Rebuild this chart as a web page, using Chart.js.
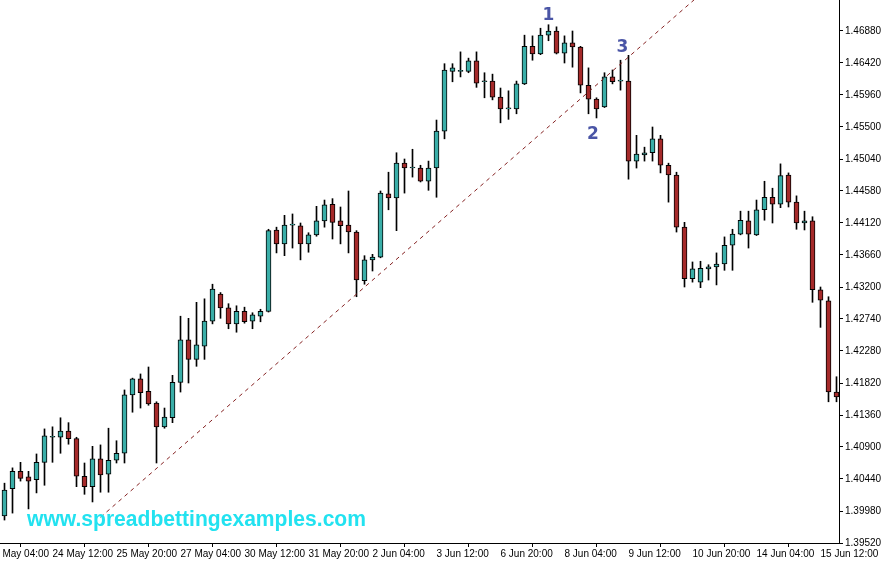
<!DOCTYPE html>
<html>
<head>
<meta charset="utf-8">
<script src="https://cdn.jsdelivr.net/npm/chart.js@4.4.1/dist/chart.umd.min.js"></script>
<style>
html,body{margin:0;padding:0;background:#fff;}
canvas{display:block;}
</style>
</head>
<body>
<canvas id="c" width="881" height="563"></canvas>
<script>
// H4 candles, 23 May 12:00 .. 15 Jun 16:00
const opens = [1.3991,1.4030,1.4055,1.4047,1.4043,1.4068,1.4104,1.4104,1.4113,1.4102,
1.4048,1.4033,1.4073,1.4051,1.4071,1.4081,1.4165,1.4188,1.4170,1.4153,
1.4119,1.4132,1.4183,1.4244,1.4216,1.4235,1.4271,1.4310,1.4290,1.4267,
1.4285,1.4271,1.4278,1.4285,1.4402,1.4382,1.4409,1.4408,1.4382,1.4395,
1.4415,1.4439,1.4415,1.4409,1.4399,1.4329,1.4359,1.4363,1.4454,1.4448,
1.4498,1.4491,1.4491,1.4472,1.4491,1.4544,1.4630,1.4630,1.4630,1.4645,
1.4615,1.4616,1.4593,1.4576,1.4576,1.4612,1.4666,1.4655,1.4682,1.4688,
1.4656,1.4671,1.4665,1.4610,1.4590,1.4579,1.4622,1.4616,1.4616,1.4501,
1.4510,1.4513,1.4533,1.4495,1.4481,1.4406,1.4332,1.4327,1.4346,1.4349,
1.4353,1.4380,1.4396,1.4415,1.4395,1.4431,1.4449,1.4439,1.4481,1.4442,
1.4412,1.4415,1.4316,1.4300,1.4169];
const highs = [1.4038,1.4060,1.4068,1.4055,1.4080,1.4116,1.4119,1.4132,1.4125,1.4104,
1.4067,1.4091,1.4093,1.4117,1.4099,1.4172,1.4189,1.4195,1.4205,1.4155,
1.4146,1.4193,1.4278,1.4275,1.4298,1.4303,1.4324,1.4312,1.4296,1.4293,
1.4291,1.4283,1.4288,1.4403,1.4406,1.4423,1.4425,1.4412,1.4398,1.4436,
1.4445,1.4447,1.4435,1.4458,1.4401,1.4365,1.4367,1.4458,1.4485,1.4513,
1.4504,1.4518,1.4495,1.4501,1.4560,1.4641,1.4641,1.4658,1.4649,1.4658,
1.4628,1.4626,1.4606,1.4602,1.4616,1.4682,1.4681,1.4692,1.4697,1.4694,
1.4681,1.4688,1.4666,1.4635,1.4592,1.4628,1.4632,1.4646,1.4653,1.4538,
1.4521,1.4550,1.4538,1.4498,1.4485,1.4413,1.4356,1.4357,1.4352,1.4369,
1.4392,1.4403,1.4429,1.4429,1.4445,1.4472,1.4462,1.4497,1.4484,1.4451,
1.4429,1.4421,1.4320,1.4306,1.4191];
const lows = [1.3985,1.3995,1.4041,1.4001,1.4024,1.4035,1.4068,1.4081,1.4094,1.4033,
1.4022,1.4011,1.4025,1.4025,1.4067,1.4067,1.4140,1.4146,1.4150,1.4067,
1.4117,1.4125,1.4169,1.4182,1.4206,1.4216,1.4267,1.4275,1.4260,1.4255,
1.4268,1.4260,1.4270,1.4284,1.4369,1.4365,1.4376,1.4359,1.4370,1.4393,
1.4406,1.4389,1.4382,1.4369,1.4306,1.4324,1.4343,1.4362,1.4431,1.4401,
1.4455,1.4478,1.4471,1.4459,1.4449,1.4533,1.4615,1.4622,1.4628,1.4607,
1.4592,1.4589,1.4556,1.4561,1.4569,1.4611,1.4646,1.4654,1.4674,1.4655,
1.4642,1.4636,1.4599,1.4569,1.4563,1.4578,1.4612,1.4603,1.4475,1.4491,
1.4501,1.4501,1.4484,1.4442,1.4399,1.4320,1.4327,1.4319,1.4330,1.4323,
1.4344,1.4344,1.4395,1.4376,1.4394,1.4416,1.4412,1.4434,1.4435,1.4403,
1.4402,1.4298,1.4262,1.4155,1.4155];
const closes = [1.4028,1.4055,1.4045,1.4041,1.4068,1.4106,1.4104,1.4113,1.4102,1.4048,
1.4033,1.4073,1.4050,1.4071,1.4081,1.4165,1.4188,1.4168,1.4152,1.4119,
1.4133,1.4183,1.4244,1.4216,1.4237,1.4271,1.4317,1.4290,1.4267,1.4285,
1.4270,1.4280,1.4285,1.4401,1.4382,1.4409,1.4409,1.4382,1.4395,1.4415,
1.4438,1.4413,1.4408,1.4399,1.4330,1.4359,1.4363,1.4455,1.4448,1.4498,
1.4491,1.4491,1.4472,1.4491,1.4544,1.4632,1.4635,1.4630,1.4645,1.4613,
1.4615,1.4593,1.4576,1.4576,1.4612,1.4666,1.4655,1.4682,1.4688,1.4656,
1.4671,1.4665,1.4610,1.4590,1.4576,1.4622,1.4615,1.4616,1.4501,1.4511,
1.4513,1.4533,1.4495,1.4481,1.4406,1.4332,1.4346,1.4347,1.4349,1.4353,
1.4380,1.4396,1.4416,1.4396,1.4431,1.4449,1.4439,1.4480,1.4442,1.4412,
1.4415,1.4316,1.4301,1.4169,1.4162];

// time axis labels (bar index -> label)
const timeTickIndex = [-2,6,14,22,30,38,46,54,62,70,78,86,94,102];
const timeTickLabels = ["23 May 04:00","24 May 12:00","25 May 20:00","27 May 04:00","30 May 12:00","31 May 20:00","2 Jun 04:00","3 Jun 12:00","6 Jun 20:00","8 Jun 04:00","9 Jun 12:00","10 Jun 20:00","14 Jun 04:00","15 Jun 12:00"];
// price axis ticks
const priceTicks = [1.39520,1.39980,1.40440,1.40900,1.41360,1.41820,1.42280,1.42740,1.43200,1.43660,1.44120,1.44580,1.45040,1.45500,1.45960,1.46420,1.46880];

// trend line anchors (bar index, price)
const trendX = [12, 96];
const trendY = [1.3989, 1.4831];

// wave labels
const waveText = ["1","2","3"];
const waveX = [68, 73.56, 77.25];
const waveY = [1.47103, 1.45385, 1.46643];

const watermark = "www.spreadbettingexamples.com";

const bullColor = '#3aaea8';
const bearColor = '#a52a2a';

const idx = opens.map((_, i) => i);
const wickData = idx.map(i => ({x: i, y: [lows[i], highs[i]]}));
const bodyData = idx.map(i => ({x: i, y: [opens[i], closes[i]]}));
const bodyColors = idx.map(i => closes[i] >= opens[i] ? bullColor : bearColor);
const trendData = trendX.map((v, k) => ({x: v, y: trendY[k]}));

const annot = {
  id: 'annot',
  afterDatasetsDraw(chart) {
    const {ctx, scales: {x, y}} = chart;
    ctx.save();
    ctx.font = 'bold 17px "DejaVu Sans"';
    ctx.fillStyle = '#4a55a6';
    ctx.textAlign = 'center';
    ctx.textBaseline = 'middle';
    waveText.forEach((t, k) => ctx.fillText(t, x.getPixelForValue(waveX[k]), y.getPixelForValue(waveY[k])));
    ctx.font = 'bold 22px "Liberation Sans"';
    ctx.fillStyle = '#22e2f0';
    ctx.textAlign = 'left';
    ctx.textBaseline = 'alphabetic';
    ctx.fillText(watermark, 27, 526, 339);
    ctx.restore();
  }
};

const axisFont = {family: 'Liberation Sans', size: 10};

new Chart(document.getElementById('c'), {
  type: 'bar',
  data: {
    datasets: [
      {type: 'line', data: trendData, borderColor: '#852222', borderWidth: 1, borderDash: [4, 4], pointRadius: 0, fill: false, tension: 0, order: 0},
      {data: bodyData, barThickness: 5, backgroundColor: bodyColors, borderColor: '#000', borderWidth: 1, borderSkipped: false, minBarLength: 1, grouped: false, order: 1},
      {data: wickData, barThickness: 1, backgroundColor: '#000', borderWidth: 0, grouped: false, order: 2}
    ]
  },
  options: {
    responsive: false,
    animation: false,
    devicePixelRatio: 1,
    layout: {padding: 0},
    plugins: {legend: {display: false}, tooltip: {enabled: false}},
    scales: {
      x: {
        type: 'linear',
        min: -0.5625,
        max: 104.3125,
        offset: false,
        grid: {drawOnChartArea: false, drawTicks: true, tickLength: 4, color: '#000'},
        border: {display: true, color: '#000'},
        ticks: {
          autoSkip: false, maxRotation: 0, minRotation: 0, align: 'start', padding: 1,
          color: '#000', font: axisFont,
          callback: (v) => { const k = timeTickIndex.indexOf(v); return k >= 0 ? timeTickLabels[k] : ''; }
        },
        afterBuildTicks: (s) => { s.ticks = timeTickIndex.map(v => ({value: v})); },
        afterFit: (s) => { s.height = 20; s.paddingLeft = 0; s.paddingRight = 0; }
      },
      y: {
        position: 'right',
        min: 1.3952,
        max: 1.47325625,
        grid: {drawOnChartArea: false, drawTicks: true, tickLength: 4, color: '#000'},
        border: {display: true, color: '#000'},
        ticks: {padding: 2, color: '#000', font: axisFont, callback: (v) => Number(v).toFixed(5)},
        afterBuildTicks: (s) => { s.ticks = priceTicks.map(v => ({value: v})); },
        afterFit: (s) => { s.width = 42; s.paddingTop = 0; s.paddingBottom = 0; }
      }
    }
  },
  plugins: [annot]
});
</script>
</body>
</html>
